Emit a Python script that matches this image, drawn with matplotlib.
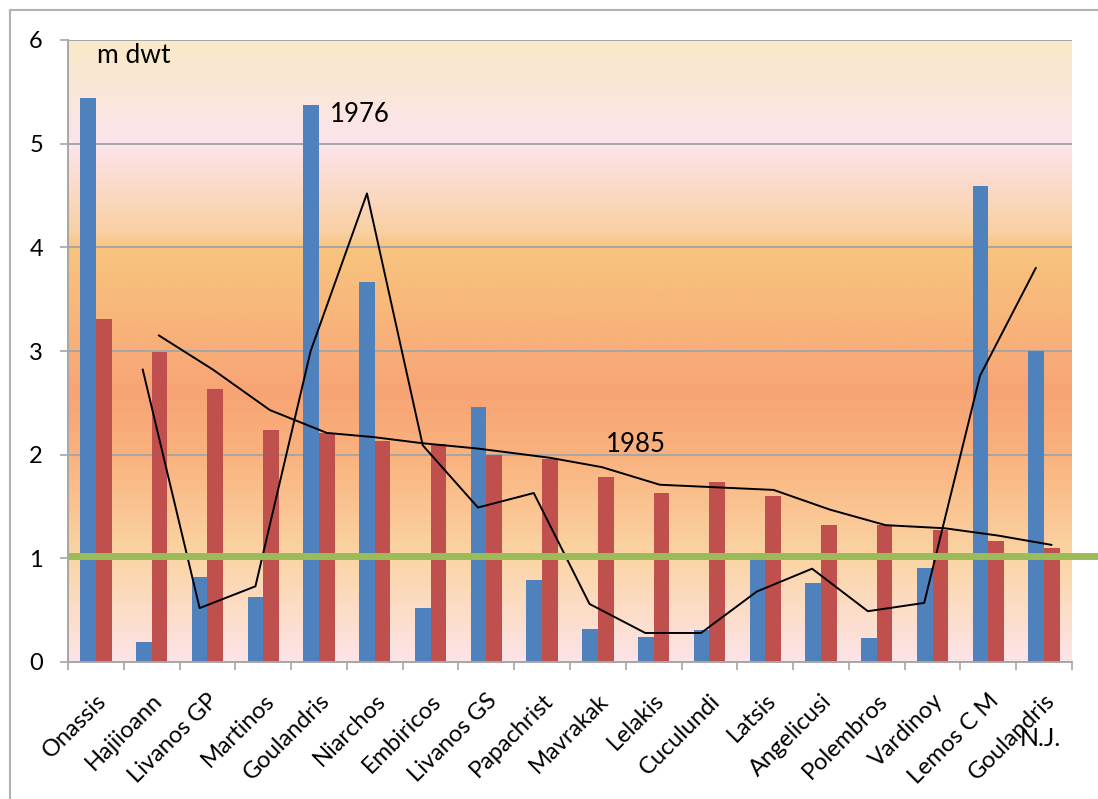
import numpy as np
import matplotlib.pyplot as plt
from matplotlib.colors import LinearSegmentedColormap
from matplotlib.lines import Line2D

plt.rcParams['font.family'] = ['Lato', 'DejaVu Sans']

owners = ["Onassis", "Hajiioann", "Livanos GP", "Martinos", "Goulandris", "Niarchos",
          "Embiricos", "Livanos GS", "Papachrist", "Mavrakak", "Lelakis", "Cuculundi",
          "Latsis", "Angelicusi", "Polembros", "Vardinoy", "Lemos C M", "Goulandris"]
dwt_1976 = [5.44, 0.19, 0.82, 0.63, 5.37, 3.67, 0.52, 2.46, 0.79, 0.32, 0.24, 0.31,
            1.01, 0.76, 0.23, 0.91, 4.59, 3.00]
dwt_1985 = [3.31, 2.99, 2.63, 2.24, 2.21, 2.13, 2.10, 2.00, 1.96, 1.78, 1.63, 1.74,
            1.60, 1.32, 1.32, 1.27, 1.17, 1.10]

# hand drawn lines (x in category units)
line76_x = [0.84, 1.86, 2.86, 3.85, 4.86, 5.86, 6.85, 7.85, 8.85, 9.85, 10.85,
            11.85, 12.84, 13.84, 14.85, 15.85, 16.85]
line76_y = [2.82, 0.52, 0.73, 3.00, 4.52, 2.09, 1.49, 1.63, 0.56, 0.28, 0.28,
            0.68, 0.90, 0.49, 0.57, 2.76, 3.80]
line85_x = [1.13, 2.10, 3.12, 4.14, 4.97, 5.86, 6.83, 8.14, 9.07, 10.11, 12.15,
            13.16, 14.16, 15.22, 16.17, 17.13]
line85_y = [3.15, 2.82, 2.43, 2.21, 2.17, 2.11, 2.06, 1.97, 1.88, 1.71, 1.66,
            1.47, 1.32, 1.29, 1.22, 1.13]
ref_level = 1.02

bg_stops = [(0.0, "#FDE4E8"), (1.0 / 6, "#FBD5A4"), (2.0 / 6, "#F9B27E"),
            (2.6 / 6, "#F7A474"), (3.0 / 6, "#F8AE79"), (4.0 / 6, "#F8C47E"),
            (4.15 / 6, "#F9D0A2"), (5.0 / 6, "#FCE4EC"), (1.0, "#FAE9C8")]
bg = LinearSegmentedColormap.from_list("bg", bg_stops)

fig = plt.figure(figsize=(10.98, 7.99), dpi=100)
ax = fig.add_axes([68 / 1098, 1 - 662 / 799, 1004 / 1098, 622 / 799])

n = len(owners)
x = np.arange(n)
ax.imshow(np.linspace(0, 1, 256).reshape(-1, 1), cmap=bg, origin="lower",
          extent=[-0.5, n - 0.5, 0, 6], aspect="auto", zorder=0)

for v in range(1, 7):
    ax.axhline(v, color="#A6A6A6", lw=1.4, zorder=1)

w = 0.28
ax.bar(x - w / 2, dwt_1976, w, color="#4F81BD", zorder=2)
ax.bar(x + w / 2, dwt_1985, w, color="#C0504D", zorder=2)

ax.plot(line76_x, line76_y, color="black", lw=1.4, zorder=4)
ax.plot(line85_x, line85_y, color="black", lw=1.4, zorder=4)
ax.plot([0, 1.026], [ref_level, ref_level], transform=ax.get_yaxis_transform(),
        color="#9BBB59", lw=5, clip_on=False, zorder=5, solid_capstyle="butt")

ax.set_xlim(-0.5, n - 0.5)
ax.set_ylim(0, 6)
ax.set_yticks(range(7))
ax.tick_params(axis="y", length=6, width=1.2, color="#A6A6A6", pad=12, labelsize=17)
ax.set_xticks(np.arange(-0.5, n, 1.0))
ax.set_xticklabels([])
ax.tick_params(axis="x", length=6, width=1.2, color="#A6A6A6")
for s in ["top", "right"]:
    ax.spines[s].set_visible(False)
for s in ["left", "bottom"]:
    ax.spines[s].set_color("#A6A6A6")
    ax.spines[s].set_linewidth(1.4)

for i, name in enumerate(owners):
    ax.text(i + 0.0, -0.045, name, transform=ax.get_xaxis_transform(), rotation=45,
            ha="right", va="top", rotation_mode="anchor", fontsize=17)

ax.text(0.02, 5.97, "m dwt", fontsize=19, va="top")
ax.text(4.2, 5.28, "1976", fontsize=18.5, va="center")
ax.text(9.14, 2.1, "1985", fontsize=18.5, va="center")
fig.text(1020 / 1098, 1 - 746 / 799, "N.J.", fontsize=18)

# outer chart frame
fig.add_artist(Line2D([10 / 1098, 10 / 1098], [0, 1 - 10 / 799], color="#B0B0B0", lw=1.5))
fig.add_artist(Line2D([10 / 1098, 1], [1 - 10 / 799, 1 - 10 / 799], color="#B0B0B0", lw=1.5))

fig.savefig("out.png", dpi=100)
